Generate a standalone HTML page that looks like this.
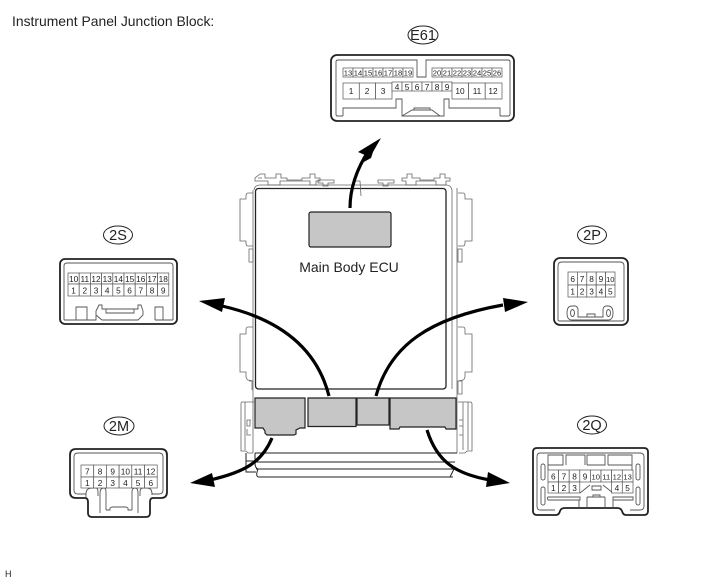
<!DOCTYPE html>
<html><head><meta charset="utf-8"><style>
html,body{margin:0;padding:0;background:#fff}
svg{display:block}
text{font-family:"Liberation Sans",sans-serif;fill:#222}
.c text{font-size:8.3px;text-anchor:middle}
.c text.n{font-size:7.6px}
.c rect{fill:#fff;stroke:#555;stroke-width:.7}
.o{fill:none;stroke:#222;stroke-width:1.8}
.i{fill:none;stroke:#555;stroke-width:.9}
.f{fill:none;stroke:#666;stroke-width:.8}
.g{fill:#c6c6c6;stroke:#222;stroke-width:1.2}
.a{fill:none;stroke:#000;stroke-width:3.2}
.l{font-size:14.5px;text-anchor:middle}
.e{fill:none;stroke:#222;stroke-width:1}
</style></head><body>
<svg width="713" height="581" viewBox="0 0 713 581" xmlns="http://www.w3.org/2000/svg">
<rect width="713" height="581" fill="#fff"/>
<text x="12" y="26" font-size="13.9">Instrument Panel Junction Block:</text>
<text x="5" y="577" font-size="9">H</text>

<!-- ECU frame -->
<path class="f" d="M260 185H446Q451 185 452 190V389M254 190Q255 185 260 185M253 190V453M457 188V453"/>
<path class="f" d="M260 174h5v4h11v-4h5v4h6v2h15v-2h8v-4h5v4h5v3h-4v4h-6v-4h-30v4h-12v-4h-13v-3zM258 178h4M318 180h16v3h-6v3h-5v-3h-5zM378 180h16v3h-6v3h-5v-3h-5zM402 178h5v-4h5v4h8v2h14v-2h6v-4h5v4h5v3h-4v4h-10v-4h-20v4h-10v-4h-4z"/>
<path class="f" d="M253 193h-5q-2 0-2 3v3h-6v42h6v2q0 3 2 3h5M253 327h-5q-2 0-2 3v4h-6v38h6v4q0 3 2 4l5 1M249 249h4v13h-4zM249 381h3v9"/>
<path class="f" d="M458 193h5q2 0 2 3v3h7v42h-7v2q0 3-2 3h-5M458 327h5q2 0 2 3v4h7v38h-7v4q0 3-2 4l-5 1M458 249h4v13h-4zM458 381h4v13h-4z"/>
<path class="f" d="M254 402h-12q-1 0-1 2v47h5l2 2h5M245 402v48M247 402h6M251 420h-4v6h3v-6M251 435h-4v-6"/>
<path class="f" d="M458 402h12q2 0 2 2v47h-5l-2 2h-6M468 402v48M463 402v48M459 420h4v6h-4M459 435h4v-6"/>
<path class="o" style="stroke-width:1" d="M255 453H457M254 462H455M256 469H454M258 477H453M258 469Q255 477 259 477M454 469L450 477M255 453V463Q255 468 258 469M246 453V461H254M246 461V472H256"/>
<rect x="255.500" y="188.500" width="190.500" height="200.500" rx="3" fill="#fff" stroke="#222" stroke-width="1.300"/>
<path class="f" d="M354 181H360L361 196"/>
<rect x="309" y="212" width="82" height="35" rx="2" class="g"/>
<text x="349" y="272" font-size="14" text-anchor="middle">Main Body ECU</text>

<path class="g" d="M255 398H305V428H300L296 430V434L294 435H267L265 433V431L263 428H255Z"/>
<path class="g" d="M308 398H356V426.500H308Z"/>
<path class="g" d="M357 398H389V425H357Z"/>
<path class="g" d="M390 398H456V429H446L445 427H400L399 429H390Z"/>

<!-- arrows -->
<path class="a" d="M350 208C350 190 356 170 369 150"/>
<polygon points="381,138 358,152 365,155 362,163 371,158 373,152"/>
<path class="a" d="M329 396C316 345 275 318 222 306"/>
<polygon points="199,301 225,298 222,312"/>
<path class="a" d="M376 396C390 345 430 318 503 305"/>
<polygon points="528,302 503,298 505,312"/>
<path class="a" d="M272 438C262 462 245 472 210 480"/>
<polygon points="190,483 212,473 215,487"/>
<path class="a" d="M427 430C437 462 456 474 490 480"/>
<polygon points="510,483 488,472 486,487"/>

<!-- E61 -->
<ellipse cx="423" cy="35" rx="15" ry="9" class="e"/><text x="423" y="40" class="l">E61</text>
<rect x="331" y="55" width="183" height="66" rx="6" class="o"/>
<path class="i" d="M343 116V108H396V99H402V116H444V99H449V108H500V116M343 116H337Q336 116 336 114V62Q336 60 338 60H417V77H426V60H508Q510 60 510 62V114Q510 116 508 116H500M402 116L412 110H432L440 116M414 110V108H430V110"/>
<g class="c">
<rect x="343" y="68" width="10" height="9"/><text class="n" x="348" y="75.500">13</text>
<rect x="353" y="68" width="10" height="9"/><text class="n" x="358" y="75.500">14</text>
<rect x="363" y="68" width="10" height="9"/><text class="n" x="368" y="75.500">15</text>
<rect x="373" y="68" width="10" height="9"/><text class="n" x="378" y="75.500">16</text>
<rect x="383" y="68" width="10" height="9"/><text class="n" x="388" y="75.500">17</text>
<rect x="393" y="68" width="10" height="9"/><text class="n" x="398" y="75.500">18</text>
<rect x="403" y="68" width="10" height="9"/><text class="n" x="408" y="75.500">19</text>
<rect x="432" y="68" width="10" height="9"/><text class="n" x="437" y="75.500">20</text>
<rect x="442" y="68" width="10" height="9"/><text class="n" x="447" y="75.500">21</text>
<rect x="452" y="68" width="10" height="9"/><text class="n" x="457" y="75.500">22</text>
<rect x="462" y="68" width="10" height="9"/><text class="n" x="467" y="75.500">23</text>
<rect x="472" y="68" width="10" height="9"/><text class="n" x="477" y="75.500">24</text>
<rect x="482" y="68" width="10" height="9"/><text class="n" x="487" y="75.500">25</text>
<rect x="492" y="68" width="10" height="9"/><text class="n" x="497" y="75.500">26</text>
<rect x="343" y="83" width="16.300" height="16"/><text x="351" y="94">1</text>
<rect x="359.300" y="83" width="16.300" height="16"/><text x="367" y="94">2</text>
<rect x="375.600" y="83" width="16.400" height="16"/><text x="383" y="94">3</text>
<rect x="392" y="82" width="10" height="9"/><text x="397" y="90">4</text>
<rect x="402" y="82" width="10" height="9"/><text x="407" y="90">5</text>
<rect x="412" y="82" width="10" height="9"/><text x="417" y="90">6</text>
<rect x="422" y="82" width="10" height="9"/><text x="427" y="90">7</text>
<rect x="432" y="82" width="10" height="9"/><text x="437" y="90">8</text>
<rect x="442" y="82" width="10" height="9"/><text x="447" y="90">9</text>
<rect x="452" y="83" width="16.600" height="16"/><text x="460" y="94">10</text>
<rect x="468.600" y="83" width="16.600" height="16"/><text x="477" y="94">11</text>
<rect x="485.200" y="83" width="16.800" height="16"/><text x="493" y="94">12</text>
</g>

<!-- 2S -->
<ellipse cx="118" cy="235" rx="14.500" ry="9" class="e"/><text x="118" y="240" class="l">2S</text>
<rect x="60" y="259" width="117" height="65" rx="5" class="o"/>
<path class="i" d="M64 320V266Q64 263 67 263H170Q173 263 173 266V320M64 320H76V307H87V320H96V315L102 320H138L143 315V311M96 315V311L99 305H102V309H138V305H141L143 311M155 320V307H163V320H173M87 320H76M106 309V313H134V309M163 320H155"/>
<g class="c">
<rect x="68" y="273" width="11.200" height="11"/><text x="73.600" y="282">10</text>
<rect x="79.200" y="273" width="11.200" height="11"/><text x="84.800" y="282">11</text>
<rect x="90.400" y="273" width="11.200" height="11"/><text x="96" y="282">12</text>
<rect x="101.600" y="273" width="11.200" height="11"/><text x="107.200" y="282">13</text>
<rect x="112.800" y="273" width="11.200" height="11"/><text x="118.400" y="282">14</text>
<rect x="124" y="273" width="11.200" height="11"/><text x="129.600" y="282">15</text>
<rect x="135.200" y="273" width="11.200" height="11"/><text x="140.800" y="282">16</text>
<rect x="146.400" y="273" width="11.200" height="11"/><text x="152" y="282">17</text>
<rect x="157.600" y="273" width="11.200" height="11"/><text x="163.200" y="282">18</text>
<rect x="68" y="284" width="11.200" height="12"/><text x="73.600" y="293.500">1</text>
<rect x="79.200" y="284" width="11.200" height="12"/><text x="84.800" y="293.500">2</text>
<rect x="90.400" y="284" width="11.200" height="12"/><text x="96" y="293.500">3</text>
<rect x="101.600" y="284" width="11.200" height="12"/><text x="107.200" y="293.500">4</text>
<rect x="112.800" y="284" width="11.200" height="12"/><text x="118.400" y="293.500">5</text>
<rect x="124" y="284" width="11.200" height="12"/><text x="129.600" y="293.500">6</text>
<rect x="135.200" y="284" width="11.200" height="12"/><text x="140.800" y="293.500">7</text>
<rect x="146.400" y="284" width="11.200" height="12"/><text x="152" y="293.500">8</text>
<rect x="157.600" y="284" width="11.200" height="12"/><text x="163.200" y="293.500">9</text>
</g>

<!-- 2P -->
<ellipse cx="592" cy="235" rx="14.500" ry="9" class="e"/><text x="592" y="240" class="l">2P</text>
<rect x="554" y="258" width="74" height="67" rx="6" class="o"/>
<path class="i" d="M558 320V266Q558 262 562 262H620Q624 262 624 266V320Q624 321 622 321H560Q558 321 558 320"/>
<path class="i" d="M572 306Q567 306 567 313Q567 320 572 320H608Q613 320 613 313Q613 306 608 306H606Q604 306 603 309V317H578V309Q577 306 575 306ZM587 317V314H595V317"/>
<ellipse cx="572.500" cy="313" rx="2" ry="3.500" class="i"/><ellipse cx="608.500" cy="313" rx="2" ry="3.500" class="i"/>
<g class="c">
<rect x="568" y="272" width="9.400" height="13"/><text x="572.700" y="282">6</text>
<rect x="577.400" y="272" width="9.400" height="13"/><text x="582.100" y="282">7</text>
<rect x="586.800" y="272" width="9.400" height="13"/><text x="591.500" y="282">8</text>
<rect x="596.200" y="272" width="9.400" height="13"/><text x="600.900" y="282">9</text>
<rect x="605.600" y="272" width="9.400" height="13"/><text class="n" x="610.300" y="282">10</text>
<rect x="568" y="285" width="9.400" height="12"/><text x="572.700" y="294.500">1</text>
<rect x="577.400" y="285" width="9.400" height="12"/><text x="582.100" y="294.500">2</text>
<rect x="586.800" y="285" width="9.400" height="12"/><text x="591.500" y="294.500">3</text>
<rect x="596.200" y="285" width="9.400" height="12"/><text x="600.900" y="294.500">4</text>
<rect x="605.600" y="285" width="9.400" height="12"/><text x="610.300" y="294.500">5</text>
</g>

<!-- 2M -->
<ellipse cx="119" cy="426" rx="15" ry="9" class="e"/><text x="119" y="431" class="l">2M</text>
<path class="o" d="M76 449H161Q167 449 167 455V492Q167 498 161 498H153Q150 498 150 502V513Q150 517 146 517H92Q88 517 88 513V502Q88 498 85 498H76Q70 498 70 492V455Q70 449 76 449Z"/>
<path class="i" d="M78 453H159Q163 453 163 457V490Q163 494 159 494H152V495M78 453Q74 453 74 457V490Q74 494 78 494H86V498M86 494Q86 488 92 488H96Q98 488 98 492V496M100 513V493Q100 488 104 488Q106 488 106 492V510M132 510V492Q132 488 135 488Q138 488 138 493V513M140 496V492Q140 488 143 488H147Q152 488 152 494M106 510H110V508L112 507H126L128 508V510H132"/>
<g class="c">
<rect x="81" y="465" width="12.700" height="12"/><text x="87.300" y="474.500">7</text>
<rect x="93.700" y="465" width="12.700" height="12"/><text x="100" y="474.500">8</text>
<rect x="106.400" y="465" width="12.700" height="12"/><text x="112.700" y="474.500">9</text>
<rect x="119.100" y="465" width="12.700" height="12"/><text x="125.400" y="474.500">10</text>
<rect x="131.800" y="465" width="12.700" height="12"/><text x="138.100" y="474.500">11</text>
<rect x="144.500" y="465" width="12.700" height="12"/><text x="150.800" y="474.500">12</text>
<rect x="81" y="477" width="12.700" height="11"/><text x="87.300" y="486">1</text>
<rect x="93.700" y="477" width="12.700" height="11"/><text x="100" y="486">2</text>
<rect x="106.400" y="477" width="12.700" height="11"/><text x="112.700" y="486">3</text>
<rect x="119.100" y="477" width="12.700" height="11"/><text x="125.400" y="486">4</text>
<rect x="131.800" y="477" width="12.700" height="11"/><text x="138.100" y="486">5</text>
<rect x="144.500" y="477" width="12.700" height="11"/><text x="150.800" y="486">6</text>
</g>

<!-- 2Q -->
<ellipse cx="592" cy="425" rx="14.500" ry="9" class="e"/><text x="592" y="430" class="l">2Q</text>
<path class="o" d="M537 448H644Q648 448 648 452V511Q648 515 644 515H626Q623 515 622 511Q621 508 617 508H565Q561 508 560 511Q559 515 556 515H537Q533 515 533 511V452Q533 448 537 448Z"/>
<path class="i" d="M548 470V455H563V465H548M566 465V455H585V465M587 465V455H605V465H587M608 465V455H632V470M608 465H632M540 453H640Q644 453 644 457V506Q644 510 640 510H630M540 453Q537 453 537 457V506Q537 510 540 510H555"/>
<rect x="541" y="464" width="4" height="16" rx="2" class="i"/><rect x="636" y="464" width="4" height="16" rx="2" class="i"/><rect x="541" y="487" width="4" height="18" rx="2" class="i"/><rect x="636" y="487" width="4" height="18" rx="2" class="i"/>
<path class="i" d="M548 497H580V500H548Q547 498 548 497ZM613 497H633V500H613ZM579 500V508M587 497V508M605 497V508M613 500V508M587 497H605M592 490H601V486H592ZM580 493L590 485M613 493L603 485M593 497V495H600V497"/>
<g class="c">
<rect x="548" y="470" width="10.600" height="12"/><text x="553.300" y="479.500">6</text>
<rect x="558.600" y="470" width="10.600" height="12"/><text x="563.900" y="479.500">7</text>
<rect x="569.200" y="470" width="10.600" height="12"/><text x="574.500" y="479.500">8</text>
<rect x="579.800" y="470" width="10.600" height="12"/><text x="585.100" y="479.500">9</text>
<rect x="590.400" y="470" width="10.600" height="12"/><text class="n" x="595.700" y="479.500">10</text>
<rect x="601" y="470" width="10.600" height="12"/><text class="n" x="606.300" y="479.500">11</text>
<rect x="611.600" y="470" width="10.700" height="12"/><text class="n" x="616.900" y="479.500">12</text>
<rect x="622.300" y="470" width="10.700" height="12"/><text class="n" x="627.600" y="479.500">13</text>
<rect x="548" y="482" width="10.600" height="11"/><text x="553.300" y="491">1</text>
<rect x="558.600" y="482" width="10.600" height="11"/><text x="563.900" y="491">2</text>
<rect x="569.200" y="482" width="10.600" height="11"/><text x="574.500" y="491">3</text>
<rect x="611.600" y="482" width="10.700" height="11"/><text x="616.900" y="491">4</text>
<rect x="622.300" y="482" width="10.700" height="11"/><text x="627.600" y="491">5</text>
</g>
</svg>
</body></html>
